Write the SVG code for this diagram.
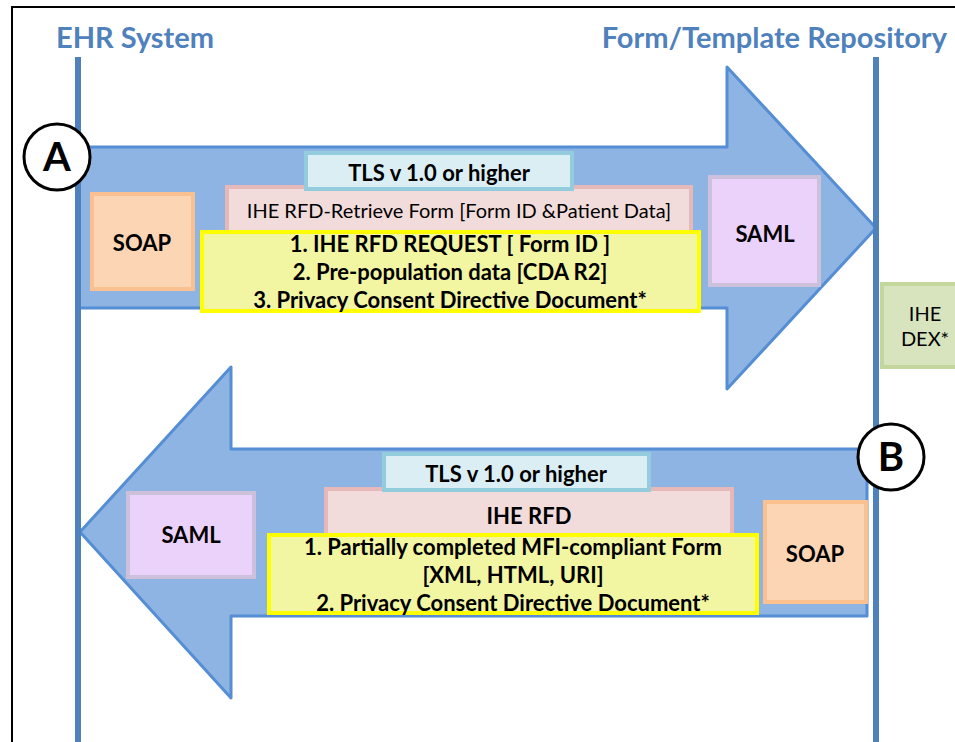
<svg xmlns="http://www.w3.org/2000/svg" width="955" height="742" viewBox="0 0 955 742">
<style>
.title{font-family:Lato,"Liberation Sans",sans-serif;font-weight:bold;font-size:29px;fill:#4F81BD}
.lifeline{stroke:#4F81BD;stroke-width:6;fill:none}
.arrow{fill:#8EB4E3;stroke:#558ED5;stroke-width:3;stroke-linejoin:round}
.tls{fill:#DBEEF4;stroke:#93CDDD;stroke-width:4}
.rfd{fill:#F2DCDB;stroke:#E6B9B8;stroke-width:4}
.msg{fill:#F2F5A2;stroke:#FFFF00;stroke-width:4}
.soap{fill:#FCD5B5;stroke:#FAC090;stroke-width:4}
.saml{fill:#EBD2FA;stroke:#CCC0DA;stroke-width:4}
.dex{fill:#D7E4BD;stroke:#C3D69B;stroke-width:4}
.t{font-family:Lato,"Liberation Sans",sans-serif;font-weight:bold;font-size:22px;fill:#000;text-anchor:middle}
.r{font-family:Lato,"Liberation Sans",sans-serif;font-size:20px;fill:#000;text-anchor:middle}
.circ{fill:#fff;stroke:#000;stroke-width:3}
.letter{font-family:Lato,"Liberation Sans",sans-serif;font-weight:bold;font-size:40px;fill:#000;text-anchor:middle}
</style>
<rect x="0" y="0" width="955" height="742" fill="#fff"/>
<path d="M12 760 V7 H960" fill="none" stroke="#000" stroke-width="2"/>
<g id="titles">
<text class="title" x="56" y="48">EHR System</text>
<text class="title" x="947" y="48" text-anchor="end">Form/Template Repository</text>
</g>
<g id="connectors">
<path id="arrowA" class="arrow" d="M78 147 H727 V67 L876 228 L727 389 V308 H78 Z"/>
<path id="arrowB" class="arrow" d="M867 449 H231 V367 L80 532 L231 698 V616 H867 Z"/>
</g>
<g id="lifelines">
<line class="lifeline" x1="78" y1="57" x2="78" y2="742"/>
<line class="lifeline" x1="876" y1="57" x2="876" y2="742"/>
</g>
<g id="circleA">
<circle class="circ" cx="57" cy="157" r="33"/>
<text class="letter" x="57" y="171">A</text>
</g>
<g id="soapA">
<rect class="soap" x="92" y="194" width="101" height="95"/>
<text class="t" x="142" y="251" font-size="25">SOAP</text>
</g>
<g id="rfdA">
<rect class="rfd" x="227" y="187" width="464" height="50"/>
<text class="r" x="459" y="218">IHE RFD-Retrieve Form [Form ID &amp;Patient Data]</text>
</g>
<g id="tlsA">
<rect class="tls" x="306" y="153" width="266" height="36"/>
<text class="t" x="439" y="181" font-size="25">TLS v 1.0 or higher</text>
</g>
<g id="msgA">
<rect class="msg" x="202" y="232" width="497" height="79"/>
<text class="t" x="450" y="252">1. IHE RFD REQUEST [ Form ID ]</text>
<text class="t" x="450" y="280">2. Pre-population data [CDA R2]</text>
<text class="t" x="450" y="308">3. Privacy Consent Directive Document*</text>
</g>
<g id="samlA">
<rect class="saml" x="710" y="177" width="109" height="108"/>
<text class="t" x="765" y="242" font-size="25">SAML</text>
</g>
<g id="dex">
<rect class="dex" x="882" y="284" width="80" height="83"/>
<text class="r" x="925" y="321" fill="#333">IHE</text>
<text class="r" x="925" y="346" fill="#333">DEX*</text>
</g>
<g id="circleB">
<circle class="circ" cx="891" cy="457" r="33"/>
<text class="letter" x="891" y="471">B</text>
</g>
<g id="samlB">
<rect class="saml" x="128" y="493" width="126" height="84"/>
<text class="t" x="191" y="543" font-size="25">SAML</text>
</g>
<g id="rfdB">
<rect class="rfd" x="326" y="489" width="406" height="55"/>
<text class="t" x="529" y="524">IHE RFD</text>
</g>
<g id="tlsB">
<rect class="tls" x="384" y="454" width="265" height="36"/>
<text class="t" x="516" y="482" font-size="25">TLS v 1.0 or higher</text>
</g>
<g id="msgB">
<rect class="msg" x="269" y="535" width="488" height="78"/>
<text class="t" x="513" y="555">1. Partially completed MFI-compliant Form</text>
<text class="t" x="513" y="583">[XML, HTML, URI]</text>
<text class="t" x="513" y="611">2. Privacy Consent Directive Document*</text>
</g>
<g id="soapB">
<rect class="soap" x="765" y="502" width="101" height="100"/>
<text class="t" x="815" y="562" font-size="25">SOAP</text>
</g>
</svg>
